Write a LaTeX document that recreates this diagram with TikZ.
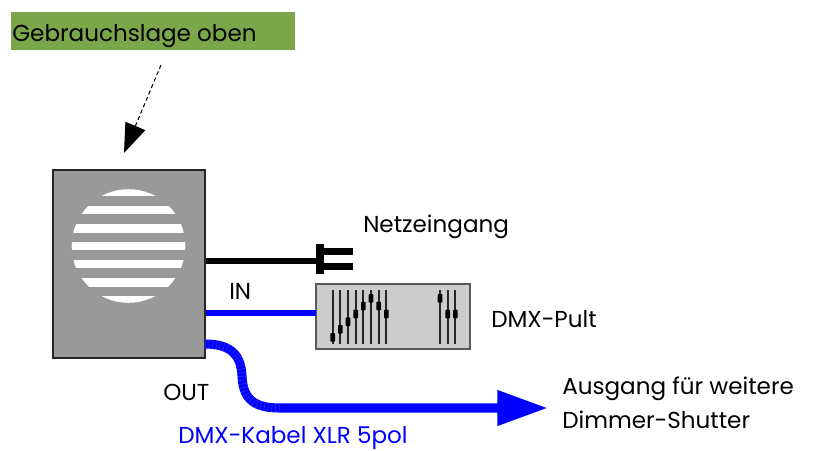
\documentclass[tikz,border=0pt]{standalone}
\usepackage{fontspec}
\setmainfont{Poppins}
\usetikzlibrary{arrows.meta}
\definecolor{labelgreen}{HTML}{7BA64A}
\definecolor{devgray}{HTML}{999999}
\definecolor{pultgray}{HTML}{CCCCCC}
\definecolor{cableblue}{HTML}{0000FF}
\tikzset{
  every node/.style={font=\fontsize{17.3}{20}\selectfont},
  greenbox/.style={fill=labelgreen, draw=none, anchor=north west, inner sep=0pt,
    minimum width=213pt, minimum height=28.5pt},
  devbox/.style={fill=devgray, draw=black!85, line width=0.8pt, minimum width=114pt,
    minimum height=141pt, inner sep=0pt},
  pultbox/.style={fill=pultgray, draw=black!65, line width=0.8pt, minimum width=115.5pt,
    minimum height=48.75pt, inner sep=0pt},
  label/.style={anchor=base west, inner sep=0pt},
  hintarrow/.style={dashed, dash pattern=on 3pt off 2.2pt, line width=0.8pt,
    -{Triangle[length=22pt, width=16pt]}},
  powercable/.style={line width=4.8pt, black},
  dmxline/.style={line width=5pt, cableblue},
  dmxcable/.style={line width=6.8pt, cableblue, -{Triangle[length=38pt, width=25pt]}},
  fader/.style={line width=1.6pt, black!85},
  knob/.style={fill=black, rounded corners=0.6pt},
}
\begin{document}
\begin{tikzpicture}[x=0.75pt, y=-0.75pt]
\useasboundingbox (0,0) rectangle (814,450);

% label on top
\node[greenbox] (lage) at (11,12) {};
\node[label] (lagetext) at (12,41) {Gebrauchslage oben};
\coordinate (hinttail) at (161,65);
\coordinate (hinttip) at (124,153);
\draw[hintarrow] (hinttail) -- (hinttip);

% device housing with speaker grill
\node[devbox] (dev) at (129,264) {};
\begin{scope}
  \clip (128.5,246) circle (56.8);
  \foreach \y in {192,210.2,228.4,246,264.2,282.4,300.6}
    \fill[white] (70,\y-4.2) rectangle (190,\y+4.2);
\end{scope}

% mains input
\coordinate (plug) at (317,261);
\draw[powercable] (dev.east |- plug) -- (plug);
\fill[black] (316,244) rectangle (324,274);
\fill[black] (324,247.5) rectangle (353,255);
\fill[black] (324,262.5) rectangle (353,270);
\node[label] (netz) at (363,232) {Netzeingang};

% DMX desk
\node[pultbox] (pult) at (393,316.5) {};
\coordinate (inpt) at (316,313);
\draw[dmxline] (dev.east |- inpt) -- (inpt);
\node[label] (intext) at (229,299) {IN};
\foreach \x/\k in {332.7/337.3, 340.3/329.3, 348/321.7, 355.7/314, 363.3/306,
                   371/298.3, 378.7/306, 386.3/314, 440/298.3, 447.7/314, 455.3/314} {
  \draw[fader] (\x,290) -- (\x,344);
  \fill[knob] (\x-2.3,\k-4.3) rectangle (\x+2.3,\k+4.3);
}
\node[label] (pulttext) at (491,327) {DMX-Pult};

% DMX output cable
\coordinate (outstart) at (205,344);
\coordinate (outbend) at (242,376);
\coordinate (outrun) at (280,408);
\coordinate (outend) at (548,408);
\draw[dmxcable] (outstart) .. controls (232,344) and (241,356) .. (outbend)
  .. controls (243,400) and (255,408) .. (outrun) -- (outend);
\draw[line width=6.8pt, white, opacity=0.15, dash pattern=on 0.5pt off 2.3pt]
  (outstart) .. controls (232,344) and (241,356) .. (outbend)
  .. controls (243,400) and (255,408) .. (outrun);
\node[label] (outtext) at (163,400) {OUT};
\node[label, text=cableblue] (kabel) at (178,443) {DMX-Kabel XLR 5pol};
\node[label] (ausg1) at (562,394) {Ausgang für weitere};
\node[label] (ausg2) at (562,428) {Dimmer-Shutter};
\end{tikzpicture}
\end{document}
